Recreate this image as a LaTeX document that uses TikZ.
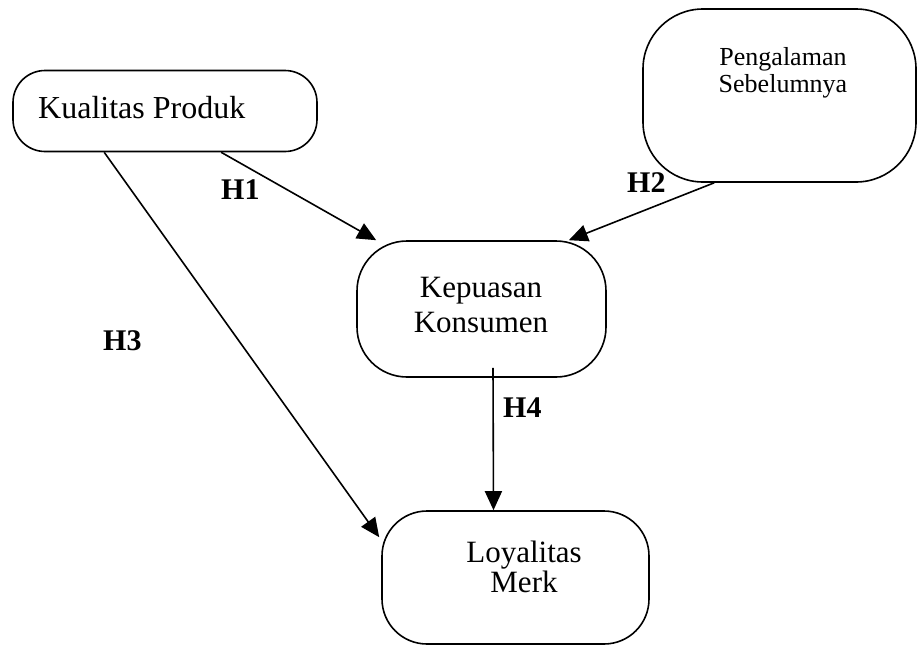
\documentclass[tikz,border=0pt]{standalone}
\usepackage{fontspec}
\setmainfont{Liberation Serif}
\usetikzlibrary{arrows.meta,calc}
\tikzset{
  box/.style={draw, line width=1.6pt, rectangle, inner sep=0pt},
  arr/.style={line width=1.6pt, -{Triangle[length=19pt,width=17pt]}},
  hyp/.style={font=\fontsize{30}{30}\selectfont\bfseries, anchor=base west, inner sep=0pt},
  txt/.style={anchor=base, align=center, inner sep=0pt},
}
\begin{document}
\begin{tikzpicture}[x=1pt,y=-1pt]
\useasboundingbox (0,0) rectangle (918,646);
% boxes
\node[box, rounded corners=32pt, minimum width=304pt, minimum height=81pt] (kp) at (165,111) {};
\node[box, rounded corners=60pt, minimum width=273pt, minimum height=173pt] (pg) at (779.5,95.5) {};
\node[box, rounded corners=50pt, minimum width=249pt, minimum height=136pt] (kk) at (481.5,309) {};
\node[box, rounded corners=45pt, minimum width=267pt, minimum height=133pt] (lm) at (515.5,577.5) {};
% texts (base anchor = baseline of the last line)
\node[anchor=base west, inner sep=0pt, font=\fontsize{32}{32}\selectfont] (kpt) at (38,118) {Kualitas Produk};
\node[txt, font=\fontsize{26}{27}\selectfont] (pgt) at (783,92) {Pengalaman\\Sebelumnya};
\node[txt, font=\fontsize{31}{35}\selectfont] (kkt) at (481,332) {Kepuasan\\Konsumen};
\node[txt, font=\fontsize{31}{30}\selectfont] (lmt) at (524,592) {Loyalitas\\Merk};
% arrows
\draw[arr] ([xshift=209pt]kp.south west) -- ([xshift=20pt]kk.north west);
\draw[arr] ([xshift=72pt]pg.south west) -- ([xshift=-38pt]kk.north east);
\draw[arr] ([xshift=92pt]kp.south west) -- ([xshift=-2pt,yshift=-27pt]lm.north west);
\draw[arr] ([xshift=11.5pt,yshift=10pt]kk.south) -- ([xshift=-22pt]lm.north);
% hypothesis labels
\node[hyp] (h1) at (221,199) {H1};
\node[hyp] (h2) at (627,192) {H2};
\node[hyp] (h3) at (103,350) {H3};
\node[hyp] (h4) at (503,417) {H4};
\end{tikzpicture}
\end{document}
